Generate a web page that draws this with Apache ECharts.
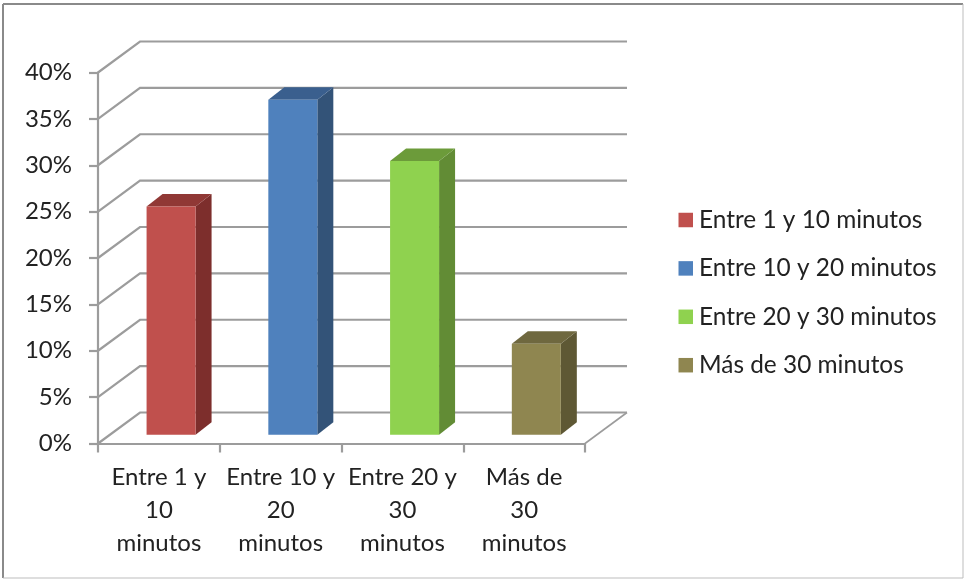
<!DOCTYPE html>
<html>
<head>
<meta charset="utf-8">
<style>html,body{margin:0;padding:0;background:#fff}#chart{width:964px;height:580px}</style>
<script src="https://cdn.jsdelivr.net/npm/echarts@6/dist/echarts.min.js"></script>
</head>
<body>
<div id="chart"></div>
<script>
// Tiempo de desplazamiento: porcentaje por rango de minutos
const categories = ['Entre 1 y 10 minutos', 'Entre 10 y 20 minutos', 'Entre 20 y 30 minutos', 'Más de 30 minutos'];
const xTickLabels = ['Entre 1 y\n10\nminutos', 'Entre 10 y\n20\nminutos', 'Entre 20 y\n30\nminutos', 'Más de\n30\nminutos'];
const values = [24.6, 36.1, 29.5, 9.8];
const yTicks = [0, 5, 10, 15, 20, 25, 30, 35, 40];

const faceColors = ['#C0504D', '#4F81BD', '#8FD24F', '#8F8650'];
const sideColors = ['#7D2E2C', '#335378', '#628C35', '#5E5834'];
const topColors = ['#903835', '#3A5F8E', '#6C9B3A', '#6F683F'];

// Proyección oblicua de la caja 3D
const WALL_DX = 42, WALL_DY = 31;
const BAR_OFFSET_X = 12.2, BAR_OFFSET_Y = 8.8;
const BAR_DX = 16, BAR_DY = 12.5;
const BAR_WIDTH = 49;
const LINE_COLOR = '#9C9C9C';

function renderWallLine(params, api) {
  const cs = params.coordSys;
  const y = api.coord([0, api.value(0)])[1];
  return {
    type: 'polyline',
    shape: { points: [[cs.x, y], [cs.x + WALL_DX, y - WALL_DY], [cs.x + cs.width + WALL_DX, y - WALL_DY]] },
    style: { fill: 'none', stroke: LINE_COLOR, lineWidth: 2.2 }
  };
}

function renderFloorEdge(params, api) {
  const cs = params.coordSys;
  const y = api.coord([0, 0])[1];
  return {
    type: 'line',
    shape: { x1: cs.x + cs.width, y1: y, x2: cs.x + cs.width + WALL_DX, y2: y - WALL_DY },
    style: { stroke: LINE_COLOR, lineWidth: 1.6 }
  };
}

function renderBar(colorIndex) {
  return function (params, api) {
    const top = api.coord([api.value(0), api.value(1)]);
    const base = api.coord([api.value(0), 0]);
    const l = top[0] - BAR_WIDTH / 2 + BAR_OFFSET_X;
    const r = l + BAR_WIDTH;
    const t = top[1] - BAR_OFFSET_Y;
    const b = base[1] - BAR_OFFSET_Y;
    return {
      type: 'group',
      children: [
        { type: 'polygon', shape: { points: [[r, t], [r + BAR_DX, t - BAR_DY], [r + BAR_DX, b - BAR_DY], [r, b]] },
          style: { fill: sideColors[colorIndex] } },
        { type: 'polygon', shape: { points: [[l, t], [l + BAR_DX, t - BAR_DY], [r + BAR_DX, t - BAR_DY], [r, t]] },
          style: { fill: topColors[colorIndex] } },
        { type: 'rect', shape: { x: l, y: t, width: BAR_WIDTH, height: b - t },
          style: { fill: faceColors[colorIndex] } }
      ]
    };
  };
}

const barSeries = categories.map((name, i) => ({
  name: name,
  type: 'custom',
  coordinateSystem: 'cartesian2d',
  clip: false,
  z: 5,
  itemStyle: { color: faceColors[i] },
  encode: { x: 0, y: 1 },
  data: [[i, values[i]]],
  renderItem: renderBar(i)
}));

const chart = echarts.init(document.getElementById('chart'), null, { renderer: 'canvas' });
chart.setOption({
  animation: false,
  backgroundColor: '#fff',
  textStyle: { fontFamily: 'Lato' },
  grid: { left: 98, right: 379, top: 72.5, bottom: 136.5 },
  legend: {
    orient: 'vertical',
    left: 673.5,
    top: 203,
    itemWidth: 14.5,
    itemHeight: 14.5,
    itemGap: 24.4,
    icon: 'rect',
    selectedMode: false,
    data: categories,
    textStyle: { fontFamily: 'Lato', fontSize: 24.4, color: '#222', padding: [0, 0, 0, 1] }
  },
  xAxis: {
    type: 'category',
    data: xTickLabels,
    axisLine: { lineStyle: { color: LINE_COLOR, width: 2.2 } },
    axisTick: { show: true, alignWithLabel: false, length: 9, lineStyle: { color: LINE_COLOR, width: 2.2 } },
    axisLabel: { interval: 0, margin: 17, fontFamily: 'Lato', fontSize: 24, lineHeight: 33, color: '#222' },
    splitLine: { show: false }
  },
  yAxis: {
    type: 'value',
    min: 0,
    max: 40,
    interval: 5,
    axisLine: { show: true, lineStyle: { color: LINE_COLOR, width: 2.2 } },
    axisTick: { show: true, length: 9, lineStyle: { color: LINE_COLOR, width: 2.2 } },
    axisLabel: { formatter: '{value}%', margin: 26, padding: [8, 0, 0, 0], fontFamily: 'Lato', fontSize: 24, color: '#222' },
    splitLine: { show: false }
  },
  graphic: [
    { type: 'line', shape: { x1: 3, y1: 4, x2: 963, y2: 4 }, style: { stroke: '#8A8A8A', lineWidth: 2 }, silent: true },
    { type: 'line', shape: { x1: 3, y1: 4, x2: 3, y2: 578 }, style: { stroke: '#8A8A8A', lineWidth: 2 }, silent: true },
    { type: 'line', shape: { x1: 963, y1: 4, x2: 963, y2: 578 }, style: { stroke: '#BDBDBD', lineWidth: 1 }, silent: true },
    { type: 'line', shape: { x1: 3, y1: 578, x2: 963, y2: 578 }, style: { stroke: '#BDBDBD', lineWidth: 1 }, silent: true }
  ],
  series: [
    { type: 'custom', coordinateSystem: 'cartesian2d', clip: false, z: 1, silent: true,
      encode: { y: 0 }, data: yTicks.map(v => [v]), renderItem: renderWallLine },
    { type: 'custom', coordinateSystem: 'cartesian2d', clip: false, z: 1, silent: true,
      encode: { y: 0 }, data: [[0]], renderItem: renderFloorEdge }
  ].concat(barSeries)
});
</script>
</body>
</html>
